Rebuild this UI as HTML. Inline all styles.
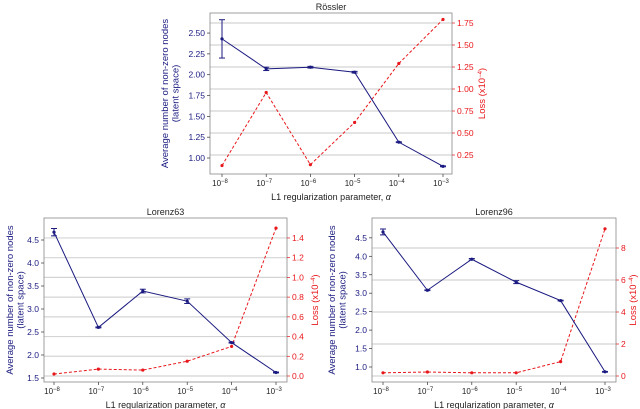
<!DOCTYPE html>
<html><head><meta charset="utf-8"><style>
html,body{margin:0;padding:0;background:#fff;width:640px;height:409px;overflow:hidden}
svg text{font-family:"Liberation Sans","DejaVu Sans",sans-serif}
</style></head><body>
<svg id="c" width="640" height="409" xmlns="http://www.w3.org/2000/svg"></svg>
<script>
const xCats=[-8,-7,-6,-5,-4,-3];
const rosBlue=[2.43,2.07,2.09,2.03,1.19,0.90];
const rosErr=[0.23,0.02,0.01,0.01,0.005,0.005];
const rosRed=[0.13,0.96,0.14,0.62,1.29,1.79];
const rosLT=[1.00,1.25,1.50,1.75,2.00,2.25,2.50];
const rosRT=[0.25,0.50,0.75,1.00,1.25,1.50,1.75];
const l63Blue=[4.67,2.60,3.39,3.17,2.27,1.62];
const l63Err=[0.08,0.01,0.04,0.05,0.01,0.01];
const l63Red=[0.02,0.07,0.06,0.15,0.30,1.50];
const l63LT=[1.5,2.0,2.5,3.0,3.5,4.0,4.5];
const l63RT=[0.0,0.2,0.4,0.6,0.8,1.0,1.2,1.4];
const l96Blue=[4.66,3.08,3.92,3.30,2.80,0.87];
const l96Err=[0.08,0.01,0.02,0.04,0.01,0.01];
const l96Red=[0.2,0.25,0.2,0.2,0.9,9.2];
const l96LT=[1.0,1.5,2.0,2.5,3.0,3.5,4.0,4.5];
const l96RT=[0,2,4,6,8];

const svg=document.getElementById('c');
const NS='http://www.w3.org/2000/svg';
function el(t,a,p){const e=document.createElementNS(NS,t);for(const k in a)e.setAttribute(k,a[k]);(p||svg).appendChild(e);return e;}
function txt(s,a,p){const e=el('text',a,p);e.textContent=s;return e;}
const BLUE='#1a1a80',RED='#e8171b';

function chart(o){
  const g=el('g',{});
  
  
  const x=v=>o.x0+(v-(-8))*(o.x1-o.x0)/5;
  const yl=v=>o.la[1]+(v-o.la[0])*o.la[3];
  const yr=v=>o.ra[1]+(v-o.ra[0])*o.ra[3];
  o.rt.forEach(v=>{const l=el('line',{x1:o.L,x2:o.R,y1:yr(v),y2:yr(v),stroke:'#d4d4d4','stroke-width':1.2},g);
    });
  const fr=el('rect',{x:o.L,y:o.T,width:o.R-o.L,height:o.B-o.T,fill:'none',stroke:'#888','stroke-width':0.8},g);
  
  xCats.forEach(c=>{const px=x(c);el('line',{x1:px,x2:px,y1:o.B,y2:o.B+3,stroke:'#333','stroke-width':0.7},g);
    const t=txt('10',{x:px-2,y:o.B+12,'font-size':8,'text-anchor':'middle',fill:'#222'},g);
    const s=el('tspan',{dy:-3,'font-size':6},t);s.textContent='\u2212'+(-c);
    });
  o.lt.forEach(v=>{const py=yl(v);el('line',{x1:o.L-3,x2:o.L,y1:py,y2:py,stroke:'#333','stroke-width':0.7},g);
    const t=txt(v.toFixed(o.ld),{x:o.L-5,y:py+3,'font-size':8.5,'text-anchor':'end',fill:BLUE},g);
    });
  o.rt.forEach(v=>{const py=yr(v);el('line',{x1:o.R,x2:o.R+3,y1:py,y2:py,stroke:RED,'stroke-width':0.7},g);
    const t=txt(v.toFixed(o.rd),{x:o.R+5,y:py+3,'font-size':8.5,'text-anchor':'start',fill:RED},g);
    });
  const rp=o.red.map((v,i)=>x(xCats[i])+','+yr(v)).join(' ');
  const rl=el('polyline',{points:rp,fill:'none',stroke:RED,'stroke-width':1,'stroke-dasharray':'3,2'},g);
  
  o.red.forEach((v,i)=>{const m=el('circle',{cx:x(xCats[i]),cy:yr(v),r:1.6,fill:RED},g);
    });
  const bp=o.blue.map((v,i)=>x(xCats[i])+','+yl(v)).join(' ');
  const bl=el('polyline',{points:bp,fill:'none',stroke:BLUE,'stroke-width':1},g);
  
  o.blue.forEach((v,i)=>{const px=x(xCats[i]),e=o.err[i];
    el('line',{x1:px,x2:px,y1:yl(v-e),y2:yl(v+e),stroke:BLUE,'stroke-width':1},g);
    el('line',{x1:px-3,x2:px+3,y1:yl(v-e),y2:yl(v-e),stroke:BLUE,'stroke-width':1},g);
    el('line',{x1:px-3,x2:px+3,y1:yl(v+e),y2:yl(v+e),stroke:BLUE,'stroke-width':1},g);
    const m=el('circle',{cx:px,cy:yl(v),r:1.6,fill:BLUE},g);
    });
  const ti=txt(o.title,{x:(o.L+o.R)/2,y:o.T-3,'font-size':9,'text-anchor':'middle',fill:'#222'},g);
  
  const xl=txt('L1 regularization parameter, ',{x:(o.L+o.R)/2,y:o.B+26,'font-size':9,'text-anchor':'middle',fill:'#222'},g);
  const a=el('tspan',{'font-style':'italic'},xl);a.textContent='α';
  
  const cy=(o.T+o.B)/2;
  const yt=txt('',{transform:`translate(${o.ylx},${cy}) rotate(-90)`,'font-size':9.5,'text-anchor':'middle',fill:BLUE},g);
  const s1=el('tspan',{x:0,dy:-5},yt);s1.textContent='Average number of non-zero nodes';
  const s2=el('tspan',{x:0,dy:10.5},yt);s2.textContent='(latent space)';
  
  const rt=txt('',{transform:`translate(${o.yrx},${cy}) rotate(-90)`,'font-size':9.5,'text-anchor':'middle',fill:RED},g);
  const r1=el('tspan',{},rt);r1.textContent='Loss (x10';
  const r2=el('tspan',{dy:-3,'font-size':6},rt);r2.textContent='\u22124';
  const r3=el('tspan',{dy:3},rt);r3.textContent=')';
  
}
chart({name:'rossler-chart',title:'Rössler',L:210,R:452,T:13,B:174,x0:222,x1:443,
  la:[1.0,158,0,-83.3],ra:[0.25,155,0,-88],lt:rosLT,rt:rosRT,ld:2,rd:2,
  blue:rosBlue,err:rosErr,red:rosRed,ylx:173,yrx:485});
chart({name:'lorenz63-chart',title:'Lorenz63',L:44,R:287,T:218,B:382,x0:54,x1:276,
  la:[1.5,378,0,-46],ra:[0,376,0,-98.6],lt:l63LT,rt:l63RT,ld:1,rd:1,
  blue:l63Blue,err:l63Err,red:l63Red,ylx:18,yrx:318});
chart({name:'lorenz96-chart',title:'Lorenz96',L:372,R:616,T:218,B:382,x0:383,x1:605,
  la:[1.0,367,0,-36.9],ra:[0,376,0,-16],lt:l96LT,rt:l96RT,ld:1,rd:0,
  blue:l96Blue,err:l96Err,red:l96Red,ylx:340,yrx:636});
</script>
</body></html>
